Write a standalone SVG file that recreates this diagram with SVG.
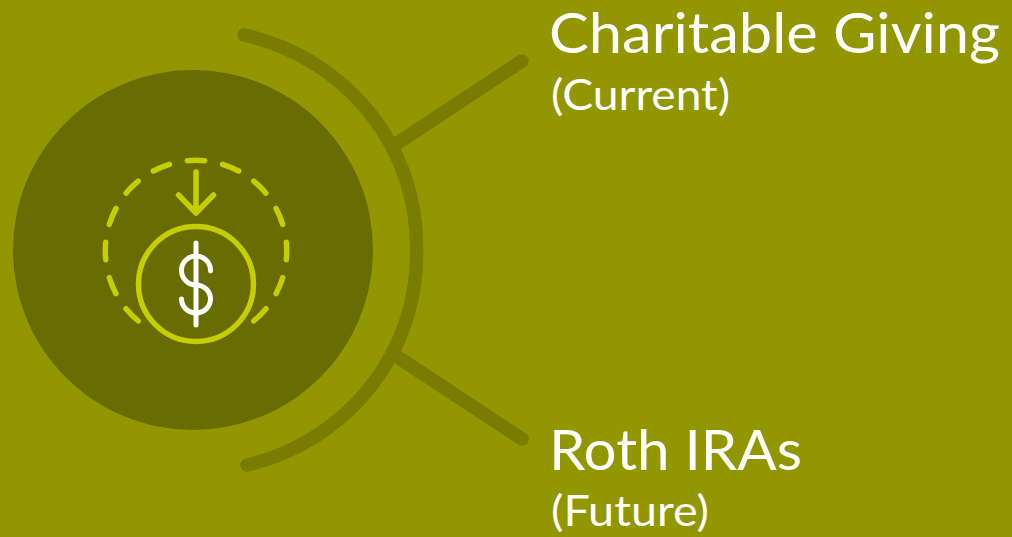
<svg xmlns="http://www.w3.org/2000/svg" width="1012" height="537" viewBox="0 0 1012 537">
<style>
.conn{fill:none;stroke:#787c00;stroke-width:13.500;stroke-linecap:round}
.lime{fill:none;stroke:#c4ce00;stroke-width:5.500;stroke-linecap:round;stroke-linejoin:round}
.white{fill:none;stroke:#fff;stroke-width:5;stroke-linecap:round}
text{fill:#fff;font-family:"Lato","Liberation Sans",sans-serif}
.h{font-size:56px}.s{font-size:42px}
</style>
<rect width="1012" height="537" fill="#929700"/>
<g id="connectors">
<path class="conn" d="M244 35A221 216 0 0 1 416.500 250A221 216 0 0 1 247 465"/>
<path class="conn" d="M522 61L393 146"/>
<path class="conn" d="M522 439L393 354"/>
</g>
<g id="hub">
<circle cx="193" cy="250" r="180" fill="#696c00"/>
<path class="lime" pathLength="281" stroke-dasharray="11 11.500" d="M138.300 321A90.700 90.700 0 1 1 253.700 321"/>
<circle class="lime" cx="196" cy="284" r="57.500"/>
<path class="lime" d="M196 172V213M178.500 195L196 213L213.500 195"/>
<path class="white" d="M196 243V325"/>
<path class="white" d="M210.500 271A14.500 14.500 0 1 0 196 285A14.500 14 0 1 1 181.500 299"/>
</g>
<g id="node-charitable">
<text class="h" x="549" y="53" textLength="451" lengthAdjust="spacingAndGlyphs">Charitable Giving</text>
<text class="s" x="551" y="110" textLength="179" lengthAdjust="spacingAndGlyphs">(Current)</text>
</g>
<g id="node-roth">
<text class="h" x="549" y="470" textLength="253" lengthAdjust="spacingAndGlyphs">Roth IRAs</text>
<text class="s" x="551" y="526" textLength="158" lengthAdjust="spacingAndGlyphs">(Future)</text>
</g>
</svg>
